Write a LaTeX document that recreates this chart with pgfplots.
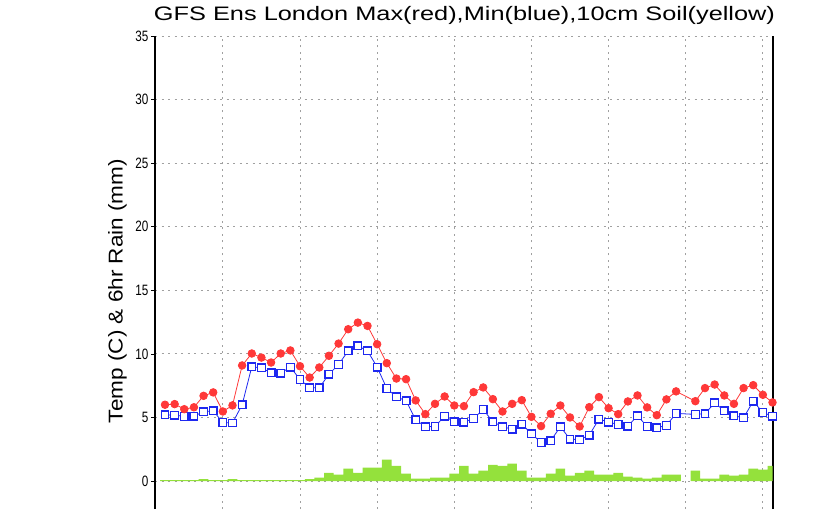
\documentclass[border=0pt]{standalone}
\usepackage{pgfplots}
\pgfplotsset{compat=1.18}
\usepackage{pgfplotstable}
\usepackage{fontspec}
\setmainfont{Liberation Sans}
\usepackage{graphicx}
\definecolor{maxRed}{HTML}{FF3838}
\definecolor{minBlue}{HTML}{1E28F0}
\definecolor{rainGreen}{HTML}{94E13C}
\definecolor{gridGray}{HTML}{A0A0A0}
\newcommand{\tl}[1]{\scalebox{0.78}[1]{\fontsize{15}{17}\selectfont #1}}

\pgfplotstableread{
x y
0 6.00
1 6.05
2 5.65
3 5.80
4 6.70
5 6.97
6 5.47
7 5.95
8 9.09
9 10.03
10 9.71
11 9.32
12 10.03
13 10.27
14 9.03
15 8.14
16 8.93
17 9.85
18 10.81
19 11.94
20 12.46
21 12.20
22 10.76
23 9.27
24 8.06
25 8.01
26 6.34
27 5.26
28 6.07
29 6.65
30 5.94
31 5.89
32 6.99
33 7.36
34 6.44
35 5.47
36 6.07
37 6.36
38 5.05
39 4.32
40 5.29
41 5.94
42 5.00
43 4.29
44 5.81
45 6.60
46 5.73
47 5.26
48 6.26
49 6.73
50 5.79
51 5.18
52 6.42
53 7.05
55 6.28
56 7.31
57 7.59
58 6.73
59 6.07
60 7.31
61 7.54
62 6.78
63 6.18
}\maxtable

\pgfplotstableread{
x y
0 5.21
1 5.18
2 5.08
3 5.10
4 5.45
5 5.52
6 4.61
7 4.56
8 6.00
9 8.98
10 8.90
11 8.51
12 8.48
13 8.96
14 7.99
15 7.33
16 7.33
17 8.40
18 9.16
19 10.24
20 10.63
21 10.24
22 8.96
23 7.28
24 6.62
25 6.31
26 4.82
27 4.27
28 4.29
29 5.10
30 4.66
31 4.63
32 4.92
33 5.63
34 4.66
35 4.27
36 4.08
37 4.48
38 3.72
39 3.04
40 3.17
41 4.27
42 3.30
43 3.25
44 3.61
45 4.87
46 4.63
47 4.45
48 4.32
49 5.13
50 4.29
51 4.19
52 4.37
53 5.32
55 5.24
56 5.29
57 6.15
58 5.52
59 5.13
60 4.97
61 6.28
62 5.39
63 5.10
}\mintable

\pgfplotstableread{
x y
0 0.08
1 0.08
2 0.08
3 0.08
4 0.15
5 0.08
6 0.08
7 0.15
8 0.08
9 0.08
10 0.08
11 0.08
12 0.08
13 0.08
14 0.08
15 0.15
16 0.26
17 0.65
18 0.50
19 0.97
20 0.65
21 1.05
22 1.05
23 1.68
24 1.20
25 0.58
26 0.18
27 0.18
28 0.26
29 0.26
30 0.58
31 1.20
32 0.58
33 0.81
34 1.28
35 1.20
36 1.36
37 0.81
38 0.26
39 0.26
40 0.58
41 0.97
42 0.42
43 0.65
44 0.81
45 0.50
46 0.50
47 0.65
48 0.34
49 0.26
50 0.18
51 0.26
52 0.50
53 0.50
55 0.81
56 0.18
57 0.18
58 0.50
59 0.42
60 0.50
61 0.97
62 0.89
63 1.20
}\raintable

\begin{document}
\begin{tikzpicture}
\begin{axis}[
  at={(155pt,0pt)}, anchor=south west,
  scale only axis,
  width=617.5pt, height=473pt,
  xmin=-1.036, xmax=63.0,
  ymin=-2.2, ymax=35,
  separate axis lines,
  x axis line style={draw=none},
  y axis line style={black, line width=2pt},
  xtick={6,14,22,30,38,46,54,62},
  xticklabels={},
  xtick style={draw=none},
  ytick={0,5,10,15,20,25,30,35},
  yticklabels={\tl{0},\tl{5},\tl{10},\tl{15},\tl{20},\tl{25},\tl{30},\tl{35}},
  ytick pos=left,
  tick align=outside,
  ytick style={black, line width=0.6pt},
  major tick length=4pt,
  grid=major,
  major grid style={gridGray, line width=0.9pt, dash pattern=on 2pt off 4.5pt},
  yticklabel style={inner sep=2.5pt},
]
\addplot[ybar, bar width=1, fill=rainGreen, draw=none] table[x=x,y=y] {\raintable};
\addplot[color=minBlue, line width=0.8pt, mark=square*, mark size=3.8pt,
  mark options={draw=minBlue, fill=white, line width=1.3pt}] table[x=x,y=y] {\mintable};
\addplot[color=maxRed, line width=0.8pt, mark=*, mark size=3.8pt,
  mark options={draw=maxRed, fill=maxRed}] table[x=x,y=y] {\maxtable};
\end{axis}
\node[anchor=base, inner sep=0pt] at (464.5pt,488pt)
  {\resizebox{621pt}{\height}{\fontsize{19.5}{23}\selectfont GFS Ens London Max(red),Min(blue),10cm Soil(yellow)}};
\node[rotate=90, anchor=center, inner sep=0pt] at (117.5pt,218pt)
  {\resizebox{264pt}{\height}{\fontsize{20}{24}\selectfont Temp (C) \& 6hr Rain (mm)}};
\pgfresetboundingbox
\path[use as bounding box] (0,0) rectangle (816pt,509pt);
\end{tikzpicture}
\end{document}
